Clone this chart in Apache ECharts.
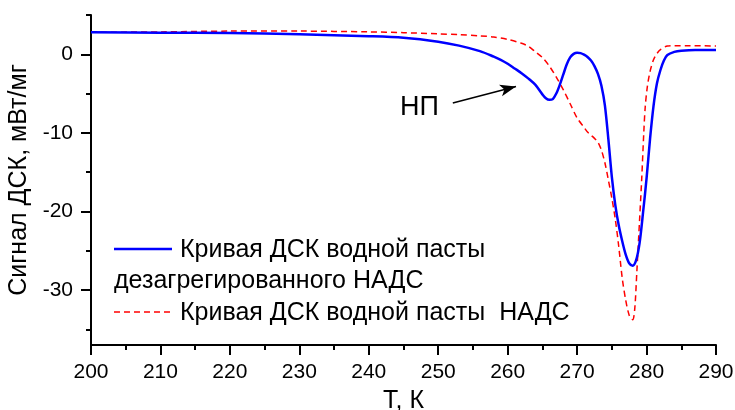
<!DOCTYPE html>
<html>
<head>
<meta charset="utf-8">
<script src="https://cdn.jsdelivr.net/npm/echarts@6/dist/echarts.min.js"></script>
<style>
html,body{margin:0;padding:0;background:#fff;}
#chart{width:735px;height:410px;}
</style>
</head>
<body>
<div id="chart"></div>
<script>
// Blue: ДСК водной пасты дезагрегированного НАДС
var blueT = [200, 210, 220, 230, 240, 245, 250, 253, 256, 258, 259, 260, 261, 262, 263, 264, 265, 265.5, 266, 266.5, 267, 267.5, 268, 268.5, 269, 269.5, 270, 270.5, 271, 271.5, 272, 272.5, 273, 273.5, 274, 274.5, 275, 275.5, 276, 276.5, 277, 277.5, 278, 278.5, 279, 279.5, 280, 280.5, 281, 281.5, 282, 282.5, 283, 284, 285, 287, 290];
var blueV = [2.8, 2.75, 2.7, 2.55, 2.3, 2.1, 1.6, 1.1, 0.4, -0.3, -0.7, -1.2, -1.8, -2.4, -3.1, -3.9, -5.1, -5.6, -5.8, -5.7, -5.0, -3.9, -2.6, -1.3, -0.4, 0.05, 0.2, 0.15, -0.05, -0.35, -0.8, -1.5, -2.5, -4.0, -6.5, -10.8, -15.6, -19.2, -21.8, -23.8, -25.5, -26.6, -26.9, -26.2, -24.0, -20.1, -15.8, -10.8, -6.6, -3.7, -2.0, -0.8, -0.1, 0.3, 0.45, 0.55, 0.55];
// Red dashed: ДСК водной пасты НАДС
var redT = [200, 210, 220, 230, 240, 245, 250, 253, 256, 258, 260, 262, 263, 264, 265, 266, 267, 268, 269, 270, 271, 271.5, 272, 272.5, 273, 273.5, 274, 274.5, 275, 275.5, 276, 276.5, 277, 277.5, 278, 278.3, 278.6, 279, 279.3, 279.6, 279.8, 280.1, 280.5, 281, 281.5, 282, 283, 284, 286, 290];
var redV = [2.8, 2.85, 2.95, 2.95, 2.85, 2.75, 2.6, 2.5, 2.35, 2.2, 1.9, 1.4, 1.0, 0.3, -0.4, -1.5, -2.9, -4.5, -6.3, -8.1, -9.3, -9.9, -10.3, -10.7, -11.2, -12.2, -13.8, -16.0, -18.3, -21.0, -24.5, -28.5, -31.3, -33.2, -33.8, -32.4, -27.7, -21.0, -15.9, -10.0, -6.8, -4.2, -2.2, -0.7, 0.1, 0.6, 1.05, 1.1, 1.1, 1.05];

var seriesNames = ['Кривая ДСК водной пасты дезагрегированного НАДС', 'Кривая ДСК водной пасты  НАДС'];
var xTickLabels = [200, 210, 220, 230, 240, 250, 260, 270, 280, 290];
var yMajorTicks = [-30, -20, -10, 0];
var yMinorTicks = [-35, -25, -15, -5, 5];
var arrowFrom = [252.1, -6.2];
var arrowTo = [261.2, -4.1];
var annotationText = 'НП';
var xName = 'Т, К';
var yName = 'Сигнал ДСК, мВт/мг';

var FONT = 'Arial, "Liberation Sans", sans-serif';

function pairs(t, v) { return t.map(function (x, i) { return [x, v[i]]; }); }

var chart = echarts.init(document.getElementById('chart'), null, {renderer: 'canvas'});
chart.setOption({
  backgroundColor: '#ffffff',
  animation: false,
  grid: {left: 91, right: 19, top: 15, bottom: 65, containLabel: false, outerBoundsMode: 'none'},
  xAxis: {
    type: 'value', min: xTickLabels[0], max: xTickLabels[xTickLabels.length - 1], interval: 10,
    name: xName, nameLocation: 'middle', nameGap: 44,
    nameTextStyle: {fontFamily: FONT, fontSize: 25, color: '#000'},
    axisLine: {show: true, onZero: false, lineStyle: {color: '#000', width: 2}},
    axisTick: {show: true, inside: false, length: 10, lineStyle: {color: '#000', width: 2}},
    minorTick: {show: true, splitNumber: 2, length: 5, lineStyle: {color: '#000', width: 2}},
    axisLabel: {fontFamily: FONT, fontSize: 21, color: '#000', margin: 17},
    splitLine: {show: false}, minorSplitLine: {show: false}
  },
  yAxis: [{
    type: 'value', min: -37, max: 5, position: 'left',
    name: yName, nameLocation: 'middle', nameGap: 56, nameRotate: 90,
    nameTextStyle: {fontFamily: FONT, fontSize: 25, color: '#000'},
    axisLine: {show: true, onZero: false, lineStyle: {color: '#000', width: 2}},
    axisTick: {show: true, inside: false, length: 10, customValues: yMajorTicks, lineStyle: {color: '#000', width: 2}},
    axisLabel: {customValues: yMajorTicks, fontFamily: FONT, fontSize: 21, color: '#000', margin: 18},
    splitLine: {show: false}
  }, {
    type: 'value', min: -37, max: 5, position: 'left', offset: 0,
    axisLine: {show: false, onZero: false},
    axisTick: {show: true, inside: false, length: 5, customValues: yMinorTicks, lineStyle: {color: '#000', width: 2}},
    axisLabel: {show: false, customValues: yMinorTicks},
    splitLine: {show: false}
  }],
  series: [{
    name: seriesNames[0], type: 'line', data: pairs(blueT, blueV), smooth: 0.3,
    showSymbol: false, symbol: 'none', z: 3,
    lineStyle: {color: '#0000ff', width: 2.5},
    markLine: {
      silent: true, symbol: ['none', 'arrow'], symbolSize: [9, 16],
      label: {show: false},
      lineStyle: {color: '#000', width: 1.5, type: 'solid'},
      data: [[{coord: arrowFrom}, {coord: arrowTo}]]
    }
  }, {
    name: seriesNames[1], type: 'line', data: pairs(redT, redV), smooth: 0.3,
    showSymbol: false, symbol: 'none', z: 2,
    lineStyle: {color: '#ff0000', width: 1.5, type: [6, 4]}
  }],
  graphic: [
    {type: 'text', left: 400, top: 94, style: {text: annotationText, font: '27px ' + FONT, fill: '#000'}},
    {type: 'line', shape: {x1: 114, y1: 249, x2: 172, y2: 249}, style: {stroke: '#0000ff', lineWidth: 2.5}},
    {type: 'text', x: 180, y: 250, style: {text: 'Кривая ДСК водной пасты', font: '25px ' + FONT, fill: '#000', textVerticalAlign: 'middle', verticalAlign: 'middle'}},
    {type: 'text', x: 114, y: 281, style: {text: 'дезагрегированного НАДС', font: '25px ' + FONT, fill: '#000', textVerticalAlign: 'middle', verticalAlign: 'middle'}},
    {type: 'line', shape: {x1: 114, y1: 312, x2: 172, y2: 312}, style: {stroke: '#ff0000', lineWidth: 1.5, lineDash: [6, 4]}},
    {type: 'text', x: 180, y: 313, style: {text: 'Кривая ДСК водной пасты  НАДС', font: '25px ' + FONT, fill: '#000', textVerticalAlign: 'middle', verticalAlign: 'middle'}}
  ]
});
</script>
</body>
</html>
